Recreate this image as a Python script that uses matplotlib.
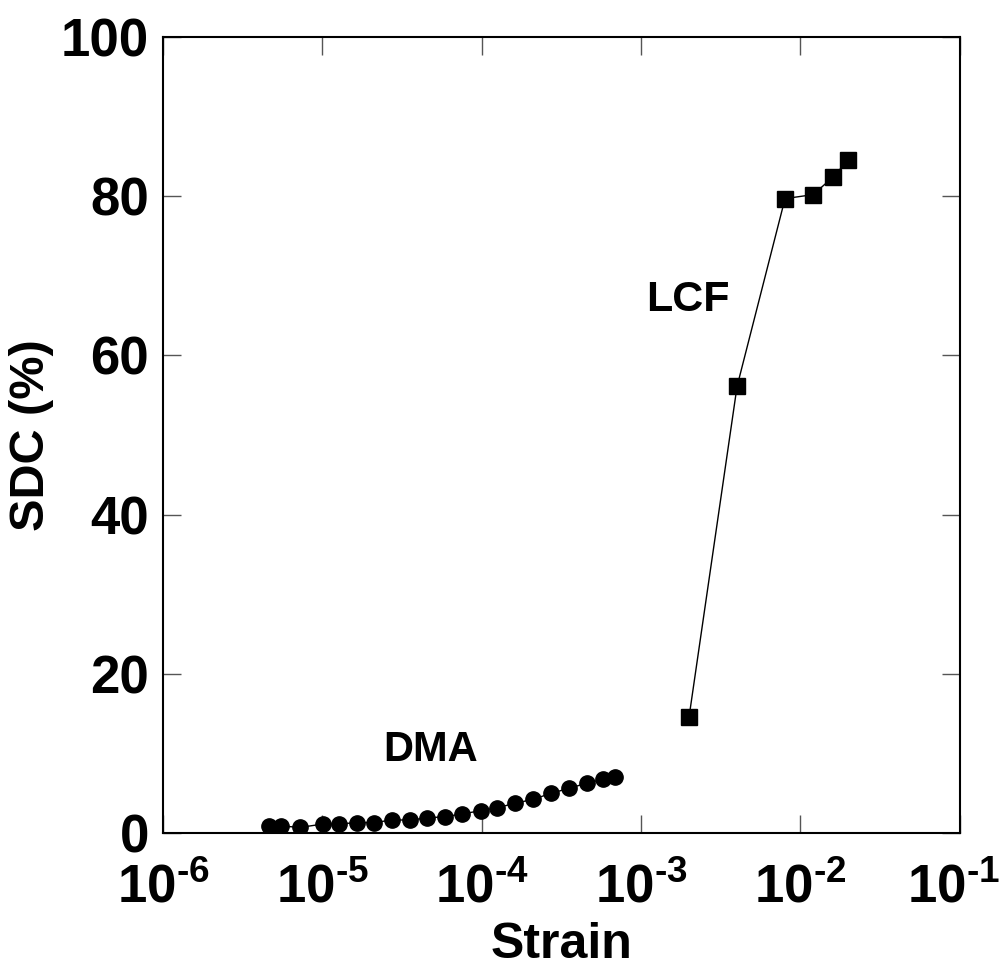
import matplotlib
matplotlib.use('Agg')
import matplotlib.pyplot as plt
import matplotlib.transforms as mtransforms

plt.rcParams['font.family'] = ['Liberation Sans', 'DejaVu Sans']
plt.rcParams['font.weight'] = 'bold'
plt.rcParams['mathtext.fontset'] = 'custom'
plt.rcParams['mathtext.rm'] = 'Liberation Sans:bold'
plt.rcParams['mathtext.bf'] = 'Liberation Sans:bold'
plt.rcParams['mathtext.default'] = 'bf'

# DMA data
dma_strain = [4.65e-6, 5.47e-6, 7.27e-6, 1.01e-5, 1.27e-5, 1.64e-5, 2.1e-5,
              2.73e-5, 3.56e-5, 4.53e-5, 5.87e-5, 7.52e-5, 9.85e-5, 1.25e-4,
              1.62e-4, 2.1e-4, 2.73e-4, 3.54e-4, 4.55e-4, 5.78e-4, 6.85e-4]
dma_sdc = [0.88, 0.88, 0.7, 1.13, 1.13, 1.3, 1.3, 1.63, 1.63, 1.88, 2.05,
           2.39, 2.8, 3.17, 3.73, 4.23, 4.99, 5.62, 6.25, 6.75, 7.08]

# LCF data
lcf_strain = [0.002, 0.004, 0.008, 0.012, 0.016, 0.020]
lcf_sdc = [14.6, 56.1, 79.7, 80.2, 82.4, 84.6]

x_ticks = [1e-6, 1e-5, 1e-4, 1e-3, 1e-2, 1e-1]
x_tick_labels = [r'$10^{\text{-6}}$', r'$10^{\text{-5}}$', r'$10^{\text{-4}}$',
                 r'$10^{\text{-3}}$', r'$10^{\text{-2}}$', r'$10^{\text{-1}}$']
y_ticks = [0, 20, 40, 60, 80, 100]

fig = plt.figure(figsize=(10.04, 9.67), dpi=100)
ax = fig.add_axes([0.1624, 0.1386, 0.7936, 0.8231])

ax.plot(dma_strain, dma_sdc, color='black', lw=1, marker='o', ms=11, zorder=3)
ax.plot(lcf_strain, lcf_sdc, color='black', lw=1, marker='s', ms=11, zorder=3)

ax.set_xscale('log')
ax.set_xlim(1e-6, 1e-1)
ax.set_ylim(0, 100)
ax.set_xticks(x_ticks)
ax.set_xticklabels(x_tick_labels)
ax.set_yticks(y_ticks)
ax.minorticks_off()

ax.tick_params(direction='in', length=13, width=1, color='#555555',
               top=True, right=True, labelsize=38)
ax.tick_params(axis='y', pad=10)
ax.tick_params(axis='x', pad=22)
for s in ax.spines.values():
    s.set_linewidth(1.5)

# nudge the last x label so it stays inside the figure
last = ax.get_xticklabels()[-1]
last.set_transform(last.get_transform() +
                   mtransforms.ScaledTranslation(-6 / 100, 0, fig.dpi_scale_trans))

ax.set_xlabel('Strain', fontsize=36, fontweight='bold', labelpad=6)
ax.set_ylabel('SDC (%)', fontsize=35, fontweight='bold', labelpad=5)

ax.text(4.8e-5, 10.4, 'DMA', fontsize=30, fontweight='bold', ha='center', va='center')
ax.text(1.97e-3, 67.0, 'LCF', fontsize=31, fontweight='bold', ha='center', va='center')

fig.savefig('out.png', dpi=100)
